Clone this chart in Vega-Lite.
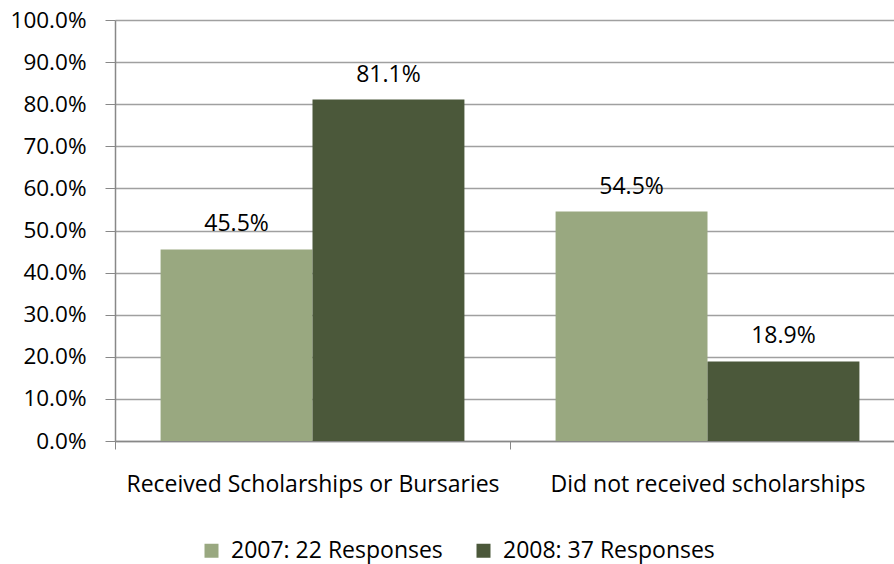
{
  "$schema": "https://vega.github.io/schema/vega-lite/v6.json",
  "width": 790,
  "height": 421,
  "autosize": {"type": "none"},
  "padding": {"left": 115, "top": 20, "right": 0, "bottom": 123},
  "background": "white",
  "config": {
    "view": {"stroke": null},
    "font": "Open Sans",
    "axis": {"labelFont": "Open Sans", "labelColor": "#000000"},
    "legend": {"labelFont": "Open Sans"}
  },
  "data": {
    "values": [
      {"category": "Received Scholarships or Bursaries", "series": "2007: 22 Responses", "value": 0.455},
      {"category": "Received Scholarships or Bursaries", "series": "2008: 37 Responses", "value": 0.811},
      {"category": "Did not received scholarships", "series": "2007: 22 Responses", "value": 0.545},
      {"category": "Did not received scholarships", "series": "2008: 37 Responses", "value": 0.189}
    ]
  },
  "encoding": {
    "x": {
      "field": "category",
      "type": "nominal",
      "sort": ["Received Scholarships or Bursaries", "Did not received scholarships"],
      "scale": {"paddingInner": 0, "paddingOuter": 0},
      "axis": {
        "title": null,
        "labelAngle": 0,
        "labelFontSize": 23,
        "labelLimit": 0,
        "labelPadding": 24,
        "domainColor": "#888888",
        "domainWidth": 1.5,
        "tickColor": "#888888",
        "tickSize": 8,
        "tickBand": "extent",
        "grid": false
      }
    },
    "xOffset": {
      "field": "series",
      "type": "nominal",
      "scale": {"paddingInner": 0, "paddingOuter": 0.3}
    },
    "y": {
      "field": "value",
      "type": "quantitative",
      "scale": {"domain": [0, 1], "nice": false},
      "axis": {
        "title": null,
        "format": ".1%",
        "values": [0, 0.1, 0.2, 0.3, 0.4, 0.5, 0.6, 0.7, 0.8, 0.9, 1.0],
        "labelFontSize": 22.5,
        "labelPadding": 19,
        "domainColor": "#888888",
        "domainWidth": 1.5,
        "tickColor": "#888888",
        "tickSize": 10,
        "grid": true,
        "gridColor": "#a0a0a0",
        "gridWidth": 1.5
      }
    }
  },
  "layer": [
    {
      "mark": {"type": "bar"},
      "encoding": {
        "color": {
          "field": "series",
          "type": "nominal",
          "scale": {"range": ["#99a880", "#4b583a"]},
          "legend": {
            "title": null,
            "orient": "none",
            "direction": "horizontal",
            "legendX": 85,
            "legendY": 519,
            "symbolType": "square",
            "symbolSize": 196,
            "symbolStrokeWidth": 0,
            "labelFontSize": 23,
            "labelColor": "#000000",
            "columnPadding": 29,
            "labelOffset": 8,
            "labelLimit": 0
          }
        }
      }
    },
    {
      "mark": {"type": "text", "baseline": "alphabetic", "dy": -18, "fontSize": 23, "color": "#000000"},
      "encoding": {
        "text": {"field": "value", "type": "quantitative", "format": ".1%"}
      }
    }
  ]
}
